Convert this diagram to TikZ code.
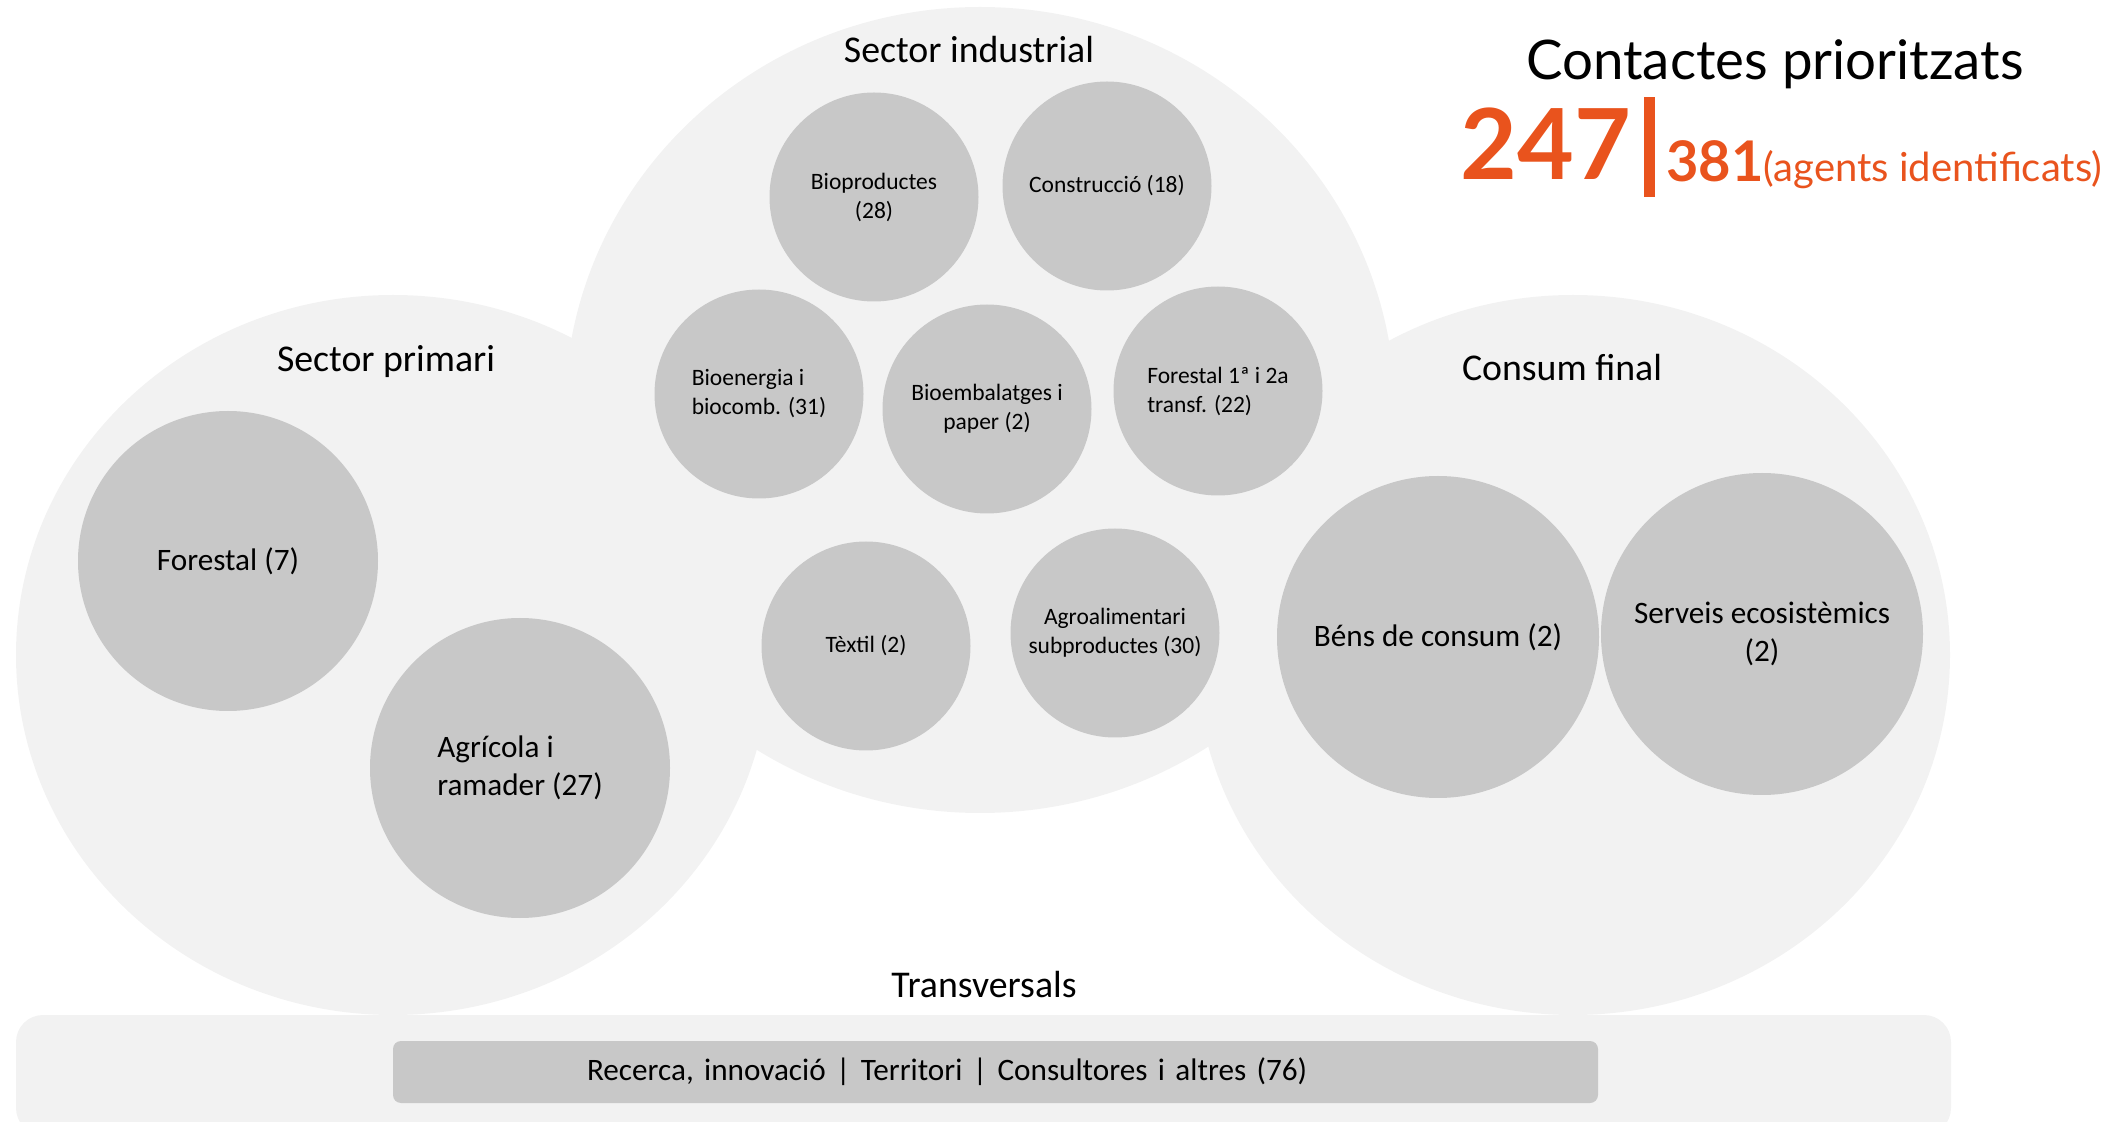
\documentclass[tikz,border=0pt]{standalone}
\usepackage{fontspec}
\setmainfont{Carlito}
\newfontfamily\titlefont{Lato}
\usetikzlibrary{shapes.geometric}
\definecolor{zonegray}{HTML}{F2F2F2}
\definecolor{bubblegray}{HTML}{C8C8C8}
\definecolor{accent}{HTML}{E9531D}
\tikzset{
  zone/.style = {ellipse, fill=zonegray, inner sep=0pt},
  zonelabel/.style = {anchor=base, inner sep=0pt, font=\fontsize{18.9}{23}\selectfont},
  bubble/.style = {circle, fill=bubblegray, inner sep=0pt, align=center,
    minimum size=104.5pt, font=\fontsize{11.75}{14.5}\selectfont},
  bigbubble/.style = {bubble, font=\fontsize{15.6}{19}\selectfont}
}

\begin{document}
\begin{tikzpicture}[x=0.5pt,y=-0.5pt]
  \clip (0,0) rectangle (2127,1122);
  \node[zone,minimum width=377pt,minimum height=360pt] (primari) at (393,655) {};
  \node[zone,minimum width=377pt,minimum height=360pt] (consum) at (1573,655) {};
  \node[zone,minimum width=415pt,minimum height=403pt] (industrial) at (980,410) {};
  \node[fill=zonegray,rounded corners=13.5pt,minimum width=967.5pt,minimum height=60pt] (transv) at (983.5,1075) {};
  \node[fill=bubblegray,rounded corners=4pt,minimum width=602.5pt,minimum height=31pt,
    text width=408.5pt,inner xsep=97pt,align=left,font=\fontsize{15.6}{19}\selectfont]
    (recerca) at (995.5,1072) {Recerca, innovació | Territori | Consultores i altres (76)};

  \node[zonelabel] (primarititle) at (386,372) {Sector primari};
  \node[zonelabel] (industrialtitle) at (969,63) {Sector industrial};
  \node[zonelabel] (consumtitle) at (1562,381) {Consum final};
  \node[zonelabel] (transvtitle) at (984,997) {Transversals};

  \node[bigbubble,minimum size=150pt] (forestal) at (228,561) {Forestal (7)};
  \node[bigbubble,minimum size=150pt,align=left] (agricola) at (520,768) {Agrícola i\\ramader (27)};

  \node[bubble] (bioprod) at (874,197) {Bioproductes\\(28)};
  \node[bubble] (constr) at (1107,186) {Construcció (18)};
  \node[bubble,align=left] (bioener) at (759,394) {Bioenergia i\\biocomb. (31)};
  \node[bubble] (bioemb) at (987,409) {Bioembalatges i\\paper (2)};
  \node[bubble,align=left] (transf) at (1218,391) {Forestal 1ª i 2a\\transf. (22)};
  \node[bubble] (textil) at (866,646) {Tèxtil (2)};
  \node[bubble] (agroal) at (1115,633) {Agroalimentari\\subproductes (30)};

  \node[bigbubble,minimum size=161pt] (bens) at (1438,637) {Béns de consum (2)};
  \node[bigbubble,minimum size=161pt] (serveis) at (1762,634) {Serveis ecosistèmics\\(2)};

  \node[anchor=base,inner sep=0pt,font=\titlefont\fontsize{27.3}{31}\selectfont] (title) at (1775,80) {Contactes prioritzats};
  \node[anchor=base west,inner sep=0pt,text=accent,font=\titlefont\bfseries\fontsize{49}{55}\selectfont] (prior) at (1460,180) {247};
  \fill[accent] (1644,97) rectangle (1655,197);
  \node[anchor=base west,inner sep=0pt,text=accent,font=\titlefont] (ident) at (1666,182)
    {{\bfseries\fontsize{28}{32}\selectfont 381}{\fontsize{20}{24}\selectfont(agents identificats)}};
\end{tikzpicture}
\end{document}
